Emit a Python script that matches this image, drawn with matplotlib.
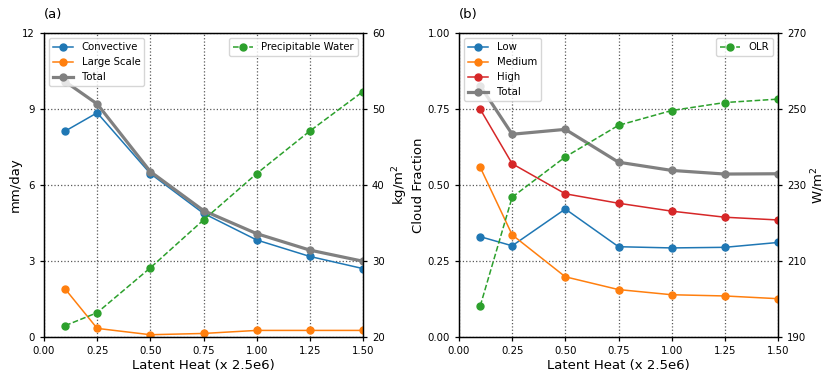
import numpy as np
import matplotlib.pyplot as plt

latent = [0.1, 0.25, 0.5, 0.75, 1.0, 1.25, 1.5]

# panel (a): precipitation (mm/day) and precipitable water (kg/m2)
convective = [8.13, 8.85, 6.45, 4.88, 3.83, 3.18, 2.70]
large_scale = [1.89, 0.34, 0.09, 0.14, 0.26, 0.26, 0.26]
precip_total = [10.08, 9.20, 6.53, 4.99, 4.08, 3.43, 2.99]
precip_water = [21.5, 23.2, 29.1, 35.4, 41.5, 47.1, 52.3]

# panel (b): cloud fraction and OLR (W/m2)
low = [0.330, 0.300, 0.421, 0.297, 0.293, 0.295, 0.311]
medium = [0.558, 0.336, 0.198, 0.156, 0.139, 0.135, 0.126]
high = [0.749, 0.570, 0.471, 0.440, 0.414, 0.394, 0.385]
cloud_total = [0.826, 0.667, 0.683, 0.575, 0.548, 0.536, 0.537]
olr = [198.2, 226.8, 237.4, 245.7, 249.6, 251.7, 252.6]

xticks = [0.0, 0.25, 0.5, 0.75, 1.0, 1.25, 1.5]

plt.rcParams['font.size'] = 7.3
plt.rcParams['axes.linewidth'] = 0.9
plt.rcParams['xtick.major.width'] = 0.9
plt.rcParams['ytick.major.width'] = 0.9
plt.rcParams['xtick.major.size'] = 3
plt.rcParams['ytick.major.size'] = 3

fig = plt.figure(figsize=(8.31, 3.80), dpi=100)
ax1 = fig.add_axes([44 / 831, 43 / 380, 319 / 831, 304 / 380])
ax2 = fig.add_axes([459 / 831, 43 / 380, 319 / 831, 304 / 380])

lw, ms = 1.1, 5
lab_fs = 9.5
for ax in (ax1, ax2):
    ax.set_xlim(0, 1.5)
    ax.set_xticks(xticks)
    ax.set_xticklabels(['%.2f' % t for t in xticks])
    ax.grid(True, linestyle=':', color='0.35', linewidth=0.9)
    ax.set_xlabel('Latent Heat (x 2.5e6)', fontsize=lab_fs, labelpad=2)

# (a)
ax1.plot(latent, convective, '-o', color='tab:blue', lw=lw, ms=ms, label='Convective')
ax1.plot(latent, large_scale, '-o', color='tab:orange', lw=lw, ms=ms, label='Large Scale')
ax1.plot(latent, precip_total, '-o', color='gray', lw=2.3, ms=ms, label='Total')
ax1.set_ylim(0, 12)
ax1.set_yticks([0, 3, 6, 9, 12])
ax1.set_ylabel('mm/day', fontsize=lab_fs, labelpad=0)
ax1.legend(loc='upper left')
ax1.set_title('(a)', loc='left', fontsize=lab_fs, pad=11)

t1 = ax1.twinx()
t1.plot(latent, precip_water, '--o', color='tab:green', lw=lw, ms=ms, label='Precipitable Water')
t1.set_ylim(20, 60)
t1.set_yticks([20, 30, 40, 50, 60])
t1.set_ylabel('kg/m$^2$', fontsize=lab_fs)
t1.legend(loc='upper right')

# (b)
ax2.plot(latent, low, '-o', color='tab:blue', lw=lw, ms=ms, label='Low')
ax2.plot(latent, medium, '-o', color='tab:orange', lw=lw, ms=ms, label='Medium')
ax2.plot(latent, high, '-o', color='tab:red', lw=lw, ms=ms, label='High')
ax2.plot(latent, cloud_total, '-o', color='gray', lw=2.3, ms=ms, label='Total')
ax2.set_ylim(0, 1)
ax2.set_yticks([0, 0.25, 0.5, 0.75, 1.0])
ax2.set_yticklabels(['0.00', '0.25', '0.50', '0.75', '1.00'])
ax2.set_ylabel('Cloud Fraction', fontsize=lab_fs, labelpad=2)
ax2.legend(loc='upper left')
ax2.set_title('(b)', loc='left', fontsize=lab_fs, pad=11)

t2 = ax2.twinx()
t2.plot(latent, olr, '--o', color='tab:green', lw=lw, ms=ms, label='OLR')
t2.set_ylim(190, 270)
t2.set_yticks([190, 210, 230, 250, 270])
t2.set_ylabel('W/m$^2$', fontsize=lab_fs, labelpad=2)
t2.legend(loc='upper right')

fig.savefig('out.png', dpi=100)
